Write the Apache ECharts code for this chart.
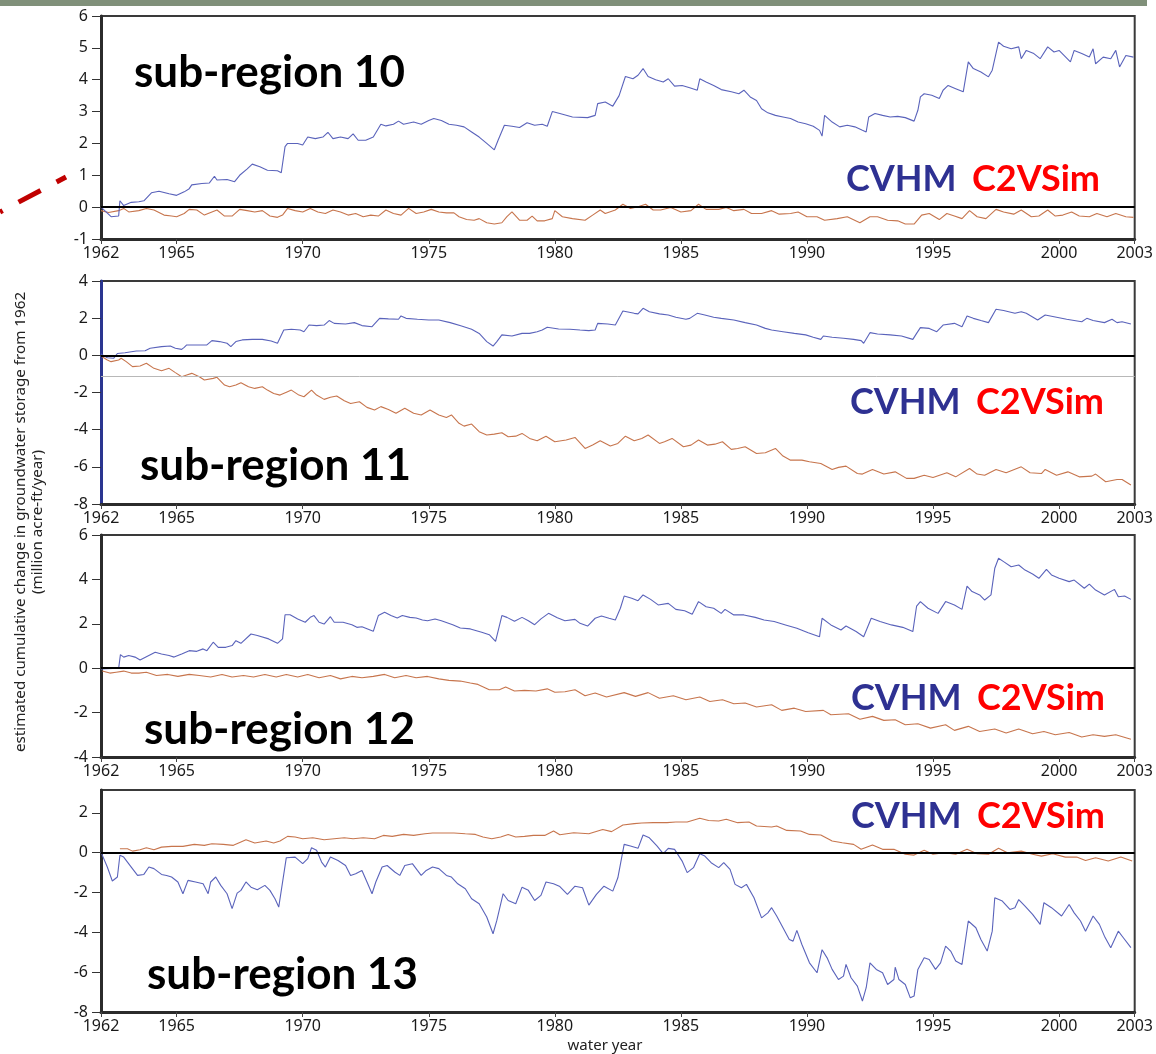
<!DOCTYPE html>
<html><head><meta charset="utf-8">
<script src="https://cdn.jsdelivr.net/npm/echarts@6/dist/echarts.min.js"></script>
<style>html,body{margin:0;padding:0;background:#fff}#c{width:1156px;height:1054px}</style>
</head><body><div id="c"></div>
<script>
// ---------- DATA (year, million acre-ft) ----------
const xTickYears = [1962,1965,1970,1975,1980,1985,1990,1995,2000,2003];
const panelTitles = ['sub-region 10','sub-region 11','sub-region 12','sub-region 13'];
const seriesNames = ['CVHM','C2VSim'];
const yTicks10 = [-1,0,1,2,3,4,5,6];
const yTicks11 = [-8,-6,-4,-2,0,2,4];
const yTicks12 = [-4,-2,0,2,4,6];
const yTicks13 = [-8,-6,-4,-2,0,2];

const sr10Cvhm = [[1962.0,0.0],[1962.4,-0.3],[1962.7,-0.28],[1962.75,0.2],[1962.9,0.05],[1963.2,0.15],[1963.5,0.17],[1963.7,0.2],[1964.0,0.45],[1964.3,0.5],[1964.7,0.42],[1965.0,0.37],[1965.3,0.48],[1965.5,0.58],[1965.6,0.7],[1966.0,0.74],[1966.3,0.76],[1966.5,0.97],[1966.6,0.85],[1967.0,0.87],[1967.3,0.8],[1967.5,1.0],[1967.8,1.2],[1968.0,1.35],[1968.3,1.27],[1968.6,1.16],[1969.0,1.14],[1969.15,1.08],[1969.3,1.9],[1969.4,2.0],[1969.8,2.0],[1970.0,1.95],[1970.2,2.2],[1970.5,2.15],[1970.8,2.2],[1971.0,2.35],[1971.2,2.15],[1971.5,2.2],[1971.8,2.15],[1972.0,2.3],[1972.2,2.1],[1972.5,2.1],[1972.8,2.2],[1973.1,2.6],[1973.3,2.55],[1973.6,2.6],[1973.8,2.7],[1974.0,2.6],[1974.4,2.67],[1974.7,2.6],[1975.0,2.72],[1975.2,2.78],[1975.5,2.72],[1975.8,2.6],[1976.1,2.57],[1976.4,2.52],[1976.7,2.36],[1977.0,2.2],[1977.3,2.0],[1977.6,1.8],[1977.75,2.1],[1978.0,2.57],[1978.3,2.54],[1978.6,2.5],[1978.9,2.65],[1979.2,2.57],[1979.5,2.6],[1979.7,2.54],[1979.9,3.0],[1980.2,2.94],[1980.7,2.83],[1981.3,2.81],[1981.6,2.88],[1981.7,3.25],[1982.0,3.3],[1982.3,3.17],[1982.55,3.5],[1982.8,4.1],[1983.1,4.03],[1983.3,4.14],[1983.5,4.35],[1983.7,4.1],[1984.0,4.0],[1984.3,3.93],[1984.5,4.03],[1984.75,3.8],[1985.05,3.82],[1985.35,3.75],[1985.65,3.67],[1985.75,4.03],[1986.0,3.93],[1986.3,3.82],[1986.6,3.69],[1987.0,3.62],[1987.3,3.56],[1987.5,3.67],[1987.75,3.46],[1988.0,3.35],[1988.2,3.09],[1988.45,2.96],[1988.75,2.88],[1989.05,2.83],[1989.35,2.78],[1989.65,2.67],[1989.95,2.62],[1990.25,2.54],[1990.5,2.41],[1990.6,2.23],[1990.7,2.88],[1991.0,2.67],[1991.3,2.52],[1991.6,2.57],[1991.9,2.52],[1992.2,2.41],[1992.35,2.36],[1992.45,2.83],[1992.7,2.94],[1993.0,2.88],[1993.3,2.83],[1993.6,2.85],[1993.9,2.81],[1994.25,2.7],[1994.4,3.04],[1994.5,3.46],[1994.65,3.56],[1994.95,3.51],[1995.25,3.41],[1995.4,3.67],[1995.6,3.82],[1995.9,3.72],[1996.2,3.62],[1996.4,4.56],[1996.6,4.35],[1996.9,4.24],[1997.2,4.09],[1997.35,4.3],[1997.6,5.18],[1997.8,5.05],[1998.1,4.97],[1998.4,5.03],[1998.5,4.66],[1998.7,4.92],[1999.0,4.82],[1999.25,4.66],[1999.55,5.03],[1999.8,4.87],[2000.0,4.92],[2000.45,4.56],[2000.6,4.92],[2000.9,4.82],[2001.2,4.71],[2001.35,4.97],[2001.45,4.5],[2001.75,4.71],[2002.05,4.66],[2002.25,4.92],[2002.4,4.4],[2002.65,4.76],[2002.95,4.71]];
const sr10C2vsim = [[1962.0,-0.11],[1962.3,-0.17],[1962.7,-0.11],[1962.9,-0.04],[1963.1,-0.15],[1963.5,-0.11],[1963.8,-0.04],[1964.1,-0.09],[1964.5,-0.25],[1964.8,-0.28],[1965.0,-0.3],[1965.3,-0.2],[1965.5,-0.07],[1965.8,-0.09],[1966.1,-0.25],[1966.4,-0.15],[1966.6,-0.09],[1966.9,-0.28],[1967.2,-0.28],[1967.5,-0.07],[1967.8,-0.11],[1968.1,-0.15],[1968.4,-0.11],[1968.7,-0.28],[1969.0,-0.32],[1969.2,-0.25],[1969.4,-0.04],[1969.7,-0.11],[1970.0,-0.15],[1970.3,-0.04],[1970.6,-0.15],[1970.9,-0.2],[1971.2,-0.09],[1971.5,-0.15],[1971.8,-0.25],[1972.1,-0.2],[1972.4,-0.3],[1972.7,-0.25],[1973.0,-0.28],[1973.3,-0.09],[1973.6,-0.2],[1973.9,-0.25],[1974.2,-0.04],[1974.5,-0.2],[1974.8,-0.15],[1975.1,-0.07],[1975.4,-0.15],[1975.7,-0.18],[1976.0,-0.18],[1976.2,-0.3],[1976.5,-0.39],[1976.8,-0.41],[1977.0,-0.36],[1977.3,-0.49],[1977.6,-0.53],[1977.9,-0.49],[1978.1,-0.3],[1978.3,-0.15],[1978.6,-0.41],[1978.9,-0.41],[1979.1,-0.28],[1979.3,-0.43],[1979.6,-0.43],[1979.9,-0.36],[1980.0,-0.11],[1980.3,-0.3],[1980.7,-0.36],[1981.2,-0.41],[1981.5,-0.25],[1981.8,-0.09],[1982.0,-0.2],[1982.4,-0.09],[1982.7,0.09],[1983.0,-0.04],[1983.3,0.01],[1983.6,0.09],[1983.9,-0.09],[1984.2,-0.09],[1984.6,-0.01],[1985.0,-0.15],[1985.4,-0.11],[1985.7,0.09],[1986.0,-0.07],[1986.5,-0.07],[1986.8,-0.01],[1987.1,-0.11],[1987.5,-0.07],[1987.8,-0.2],[1988.2,-0.2],[1988.6,-0.11],[1988.9,-0.22],[1989.35,-0.2],[1989.65,-0.15],[1990.0,-0.3],[1990.4,-0.3],[1990.7,-0.41],[1991.2,-0.36],[1991.6,-0.3],[1992.1,-0.49],[1992.5,-0.3],[1992.8,-0.3],[1993.2,-0.41],[1993.6,-0.43],[1993.9,-0.53],[1994.25,-0.53],[1994.55,-0.25],[1994.85,-0.2],[1995.25,-0.39],[1995.55,-0.2],[1995.85,-0.28],[1996.15,-0.36],[1996.45,-0.11],[1996.75,-0.3],[1997.1,-0.36],[1997.5,-0.07],[1997.8,-0.15],[1998.2,-0.22],[1998.5,-0.09],[1998.9,-0.3],[1999.2,-0.28],[1999.55,-0.09],[1999.85,-0.28],[2000.15,-0.25],[2000.5,-0.15],[2000.8,-0.28],[2001.2,-0.3],[2001.5,-0.2],[2001.9,-0.3],[2002.25,-0.2],[2002.65,-0.3],[2002.95,-0.32]];

const sr11Cvhm = [[1962.0,0.07],[1962.25,-0.13],[1962.5,-0.16],[1962.65,0.1],[1962.95,0.14],[1963.4,0.23],[1963.75,0.25],[1963.95,0.38],[1964.4,0.47],[1964.75,0.5],[1964.95,0.38],[1965.2,0.32],[1965.3,0.43],[1965.4,0.56],[1965.8,0.56],[1966.2,0.56],[1966.4,0.79],[1966.7,0.74],[1967.0,0.65],[1967.15,0.47],[1967.35,0.74],[1967.6,0.83],[1968.0,0.86],[1968.4,0.86],[1968.75,0.77],[1969.0,0.65],[1969.25,1.36],[1969.55,1.4],[1969.9,1.36],[1970.05,1.27],[1970.25,1.63],[1970.55,1.6],[1970.85,1.63],[1971.05,1.87],[1971.25,1.72],[1971.7,1.69],[1972.05,1.76],[1972.35,1.6],[1972.75,1.54],[1973.05,1.99],[1973.4,1.96],[1973.8,1.94],[1973.9,2.12],[1974.1,1.99],[1974.55,1.94],[1975.0,1.9],[1975.4,1.9],[1975.85,1.76],[1976.3,1.58],[1976.7,1.4],[1977.0,1.18],[1977.3,0.74],[1977.55,0.5],[1977.7,0.74],[1977.9,1.1],[1978.3,1.04],[1978.7,1.18],[1979.0,1.18],[1979.3,1.27],[1979.5,1.36],[1979.7,1.51],[1980.15,1.42],[1980.6,1.4],[1981.0,1.36],[1981.35,1.33],[1981.6,1.36],[1981.7,1.72],[1982.1,1.69],[1982.4,1.63],[1982.7,2.39],[1983.15,2.26],[1983.3,2.23],[1983.5,2.53],[1983.75,2.35],[1984.15,2.23],[1984.5,2.17],[1984.8,2.05],[1985.2,1.94],[1985.35,1.99],[1985.65,2.26],[1985.95,2.17],[1986.3,2.05],[1986.6,1.99],[1987.1,1.9],[1987.55,1.76],[1988.0,1.63],[1988.35,1.45],[1988.6,1.36],[1989.05,1.27],[1989.5,1.18],[1989.95,1.1],[1990.25,0.97],[1990.55,0.86],[1990.65,1.04],[1991.0,0.97],[1991.45,0.92],[1991.85,0.86],[1992.15,0.79],[1992.25,0.65],[1992.5,1.22],[1992.8,1.15],[1993.3,1.1],[1993.75,1.04],[1994.2,0.86],[1994.35,1.18],[1994.5,1.49],[1994.85,1.45],[1995.15,1.27],[1995.4,1.63],[1995.85,1.72],[1996.15,1.54],[1996.35,2.12],[1996.6,1.99],[1996.9,1.87],[1997.2,1.76],[1997.5,2.48],[1997.8,2.41],[1998.25,2.26],[1998.5,2.35],[1998.7,2.26],[1999.15,1.9],[1999.45,2.17],[1999.8,2.08],[2000.3,1.94],[2000.9,1.81],[2001.1,1.99],[2001.35,1.87],[2001.8,1.76],[2002.1,1.94],[2002.3,1.76],[2002.5,1.81],[2002.85,1.69]];
const sr11C2vsim = [[1962.0,-0.04],[1962.25,-0.25],[1962.4,-0.34],[1962.7,-0.25],[1962.8,-0.16],[1963.0,-0.34],[1963.25,-0.61],[1963.55,-0.57],[1963.8,-0.43],[1964.1,-0.7],[1964.4,-0.83],[1964.7,-0.7],[1964.95,-0.93],[1965.2,-1.15],[1965.4,-1.06],[1965.6,-0.97],[1965.9,-1.15],[1966.1,-1.33],[1966.45,-1.24],[1966.6,-1.18],[1966.9,-1.6],[1967.1,-1.69],[1967.35,-1.6],[1967.55,-1.47],[1967.85,-1.69],[1968.1,-1.78],[1968.4,-1.69],[1968.6,-1.87],[1968.85,-2.05],[1969.1,-2.14],[1969.4,-1.96],[1969.55,-1.87],[1969.85,-2.14],[1970.05,-2.23],[1970.35,-1.87],[1970.55,-2.14],[1970.85,-2.37],[1971.1,-2.26],[1971.35,-2.19],[1971.65,-2.44],[1971.9,-2.59],[1972.25,-2.5],[1972.55,-2.8],[1972.85,-2.94],[1973.1,-2.76],[1973.4,-2.91],[1973.7,-3.12],[1974.05,-2.85],[1974.4,-3.12],[1974.7,-3.21],[1975.05,-2.94],[1975.4,-3.21],[1975.7,-3.34],[1975.9,-3.21],[1976.2,-3.66],[1976.4,-3.81],[1976.7,-3.7],[1977.0,-4.11],[1977.3,-4.29],[1977.6,-4.24],[1977.9,-4.17],[1978.15,-4.38],[1978.45,-4.35],[1978.7,-4.2],[1979.0,-4.47],[1979.3,-4.6],[1979.65,-4.35],[1980.0,-4.65],[1980.45,-4.56],[1980.8,-4.42],[1981.2,-5.01],[1981.5,-4.83],[1981.8,-4.6],[1982.2,-4.88],[1982.5,-4.74],[1982.8,-4.35],[1983.15,-4.6],[1983.45,-4.47],[1983.7,-4.29],[1984.15,-4.74],[1984.35,-4.65],[1984.65,-4.47],[1985.1,-4.92],[1985.4,-4.83],[1985.7,-4.56],[1986.05,-4.83],[1986.35,-4.78],[1986.65,-4.65],[1987.0,-5.06],[1987.25,-5.01],[1987.55,-4.92],[1988.0,-5.28],[1988.35,-5.24],[1988.75,-5.01],[1989.05,-5.42],[1989.35,-5.64],[1989.8,-5.64],[1990.1,-5.73],[1990.55,-5.82],[1991.0,-6.14],[1991.25,-6.03],[1991.55,-5.96],[1992.0,-6.36],[1992.2,-6.39],[1992.6,-6.14],[1993.05,-6.39],[1993.5,-6.27],[1993.95,-6.62],[1994.25,-6.62],[1994.65,-6.45],[1995.0,-6.57],[1995.55,-6.32],[1995.9,-6.54],[1996.45,-6.09],[1996.75,-6.39],[1997.05,-6.45],[1997.5,-6.14],[1997.9,-6.32],[1998.5,-6.0],[1998.85,-6.32],[1999.3,-6.36],[1999.45,-6.14],[1999.9,-6.45],[2000.35,-6.27],[2000.8,-6.54],[2001.3,-6.5],[2001.45,-6.39],[2001.85,-6.8],[2002.3,-6.68],[2002.5,-6.68],[2002.85,-6.98]];

const sr12Cvhm = [[1962.0,-0.03],[1962.7,0.0],[1962.77,0.61],[1962.9,0.5],[1963.1,0.57],[1963.35,0.5],[1963.55,0.37],[1963.8,0.52],[1964.15,0.72],[1964.4,0.64],[1964.7,0.57],[1964.9,0.5],[1965.2,0.64],[1965.5,0.79],[1965.8,0.76],[1966.05,0.87],[1966.2,0.79],[1966.45,1.17],[1966.65,0.94],[1966.95,0.94],[1967.2,1.02],[1967.35,1.24],[1967.55,1.12],[1967.95,1.54],[1968.2,1.47],[1968.65,1.32],[1969.0,1.12],[1969.2,1.32],[1969.3,2.41],[1969.5,2.41],[1969.8,2.22],[1970.1,2.07],[1970.3,2.29],[1970.45,2.37],[1970.65,2.07],[1970.85,1.99],[1971.1,2.32],[1971.25,2.07],[1971.6,2.07],[1971.95,1.96],[1972.15,1.84],[1972.35,1.87],[1972.8,1.66],[1973.0,2.37],[1973.25,2.52],[1973.5,2.37],[1973.75,2.26],[1973.95,2.37],[1974.25,2.29],[1974.5,2.26],[1974.75,2.17],[1974.95,2.14],[1975.25,2.22],[1975.5,2.14],[1975.95,1.96],[1976.25,1.81],[1976.65,1.77],[1977.1,1.62],[1977.4,1.51],[1977.65,1.21],[1977.9,2.37],[1978.1,2.29],[1978.4,2.11],[1978.7,2.29],[1978.95,2.14],[1979.2,1.96],[1979.45,2.22],[1979.75,2.47],[1980.1,2.27],[1980.4,2.14],[1980.8,2.2],[1981.0,2.02],[1981.3,1.9],[1981.6,2.25],[1981.85,2.35],[1982.15,2.25],[1982.4,2.17],[1982.6,2.7],[1982.75,3.25],[1983.05,3.15],[1983.3,3.04],[1983.5,3.3],[1983.8,3.1],[1984.1,2.85],[1984.5,2.92],[1984.8,2.65],[1985.15,2.59],[1985.45,2.43],[1985.7,3.0],[1986.0,2.77],[1986.3,2.7],[1986.6,2.47],[1986.75,2.65],[1987.1,2.4],[1987.5,2.4],[1987.95,2.29],[1988.3,2.17],[1988.7,2.1],[1989.15,1.95],[1989.6,1.8],[1990.05,1.6],[1990.5,1.42],[1990.6,2.25],[1990.95,1.95],[1991.35,1.72],[1991.55,1.9],[1991.95,1.65],[1992.25,1.42],[1992.55,2.25],[1992.9,2.1],[1993.35,1.95],[1993.8,1.84],[1994.2,1.65],[1994.35,2.8],[1994.5,3.0],[1994.8,2.7],[1995.2,2.47],[1995.5,3.0],[1995.85,2.85],[1996.15,2.65],[1996.35,3.7],[1996.55,3.45],[1996.85,3.3],[1997.05,3.07],[1997.3,3.3],[1997.45,4.5],[1997.6,4.95],[1997.8,4.8],[1998.1,4.57],[1998.4,4.65],[1998.65,4.42],[1998.95,4.24],[1999.2,4.05],[1999.5,4.45],[1999.7,4.2],[2000.0,4.05],[2000.4,3.9],[2000.6,3.97],[2001.0,3.6],[2001.2,3.79],[2001.45,3.52],[2001.8,3.3],[2002.2,3.55],[2002.35,3.22],[2002.6,3.25],[2002.85,3.1]];
const sr12C2vsim = [[1962.05,-0.13],[1962.35,-0.22],[1962.6,-0.18],[1962.9,-0.13],[1963.2,-0.22],[1963.5,-0.22],[1963.8,-0.18],[1964.2,-0.33],[1964.65,-0.28],[1965.05,-0.37],[1965.5,-0.28],[1965.9,-0.33],[1966.35,-0.4],[1966.8,-0.28],[1967.2,-0.4],[1967.65,-0.33],[1968.05,-0.4],[1968.5,-0.28],[1968.95,-0.4],[1969.35,-0.28],[1969.8,-0.4],[1970.2,-0.28],[1970.65,-0.43],[1971.1,-0.33],[1971.5,-0.48],[1971.95,-0.37],[1972.35,-0.43],[1972.8,-0.37],[1973.25,-0.28],[1973.65,-0.43],[1974.1,-0.33],[1974.5,-0.43],[1974.95,-0.37],[1975.4,-0.48],[1975.8,-0.55],[1976.25,-0.58],[1976.65,-0.67],[1976.95,-0.73],[1977.4,-0.97],[1977.8,-0.97],[1978.05,-0.85],[1978.4,-1.03],[1978.8,-1.0],[1979.25,-1.03],[1979.7,-0.93],[1980.0,-1.08],[1980.4,-1.06],[1980.8,-0.97],[1981.2,-1.24],[1981.6,-1.12],[1982.05,-1.3],[1982.75,-1.1],[1983.2,-1.27],[1983.7,-1.1],[1984.15,-1.35],[1984.7,-1.24],[1985.2,-1.42],[1985.75,-1.3],[1986.15,-1.5],[1986.65,-1.42],[1987.1,-1.6],[1987.55,-1.57],[1988.0,-1.75],[1988.6,-1.65],[1989.0,-1.9],[1989.5,-1.8],[1989.95,-1.95],[1990.65,-1.9],[1990.95,-2.1],[1991.65,-2.05],[1992.1,-2.3],[1992.6,-2.17],[1993.05,-2.35],[1993.5,-2.32],[1993.9,-2.55],[1994.4,-2.5],[1994.9,-2.7],[1995.5,-2.55],[1995.85,-2.8],[1996.4,-2.62],[1996.85,-2.85],[1997.45,-2.74],[1997.9,-2.92],[1998.4,-2.74],[1998.95,-2.95],[1999.4,-2.85],[1999.85,-3.0],[2000.4,-2.9],[2000.9,-3.1],[2001.35,-3.0],[2001.8,-3.07],[2002.25,-3.0],[2002.85,-3.2]];

const sr13Cvhm = [[1962.0,0.03],[1962.25,-0.72],[1962.45,-1.42],[1962.65,-1.22],[1962.75,-0.13],[1962.9,-0.22],[1963.2,-0.72],[1963.45,-1.14],[1963.7,-1.09],[1963.9,-0.72],[1964.1,-0.8],[1964.4,-1.09],[1964.6,-1.14],[1964.8,-1.22],[1965.05,-1.47],[1965.25,-2.06],[1965.45,-1.39],[1965.75,-1.47],[1966.05,-1.56],[1966.25,-2.06],[1966.35,-1.47],[1966.55,-1.22],[1966.75,-1.64],[1967.0,-2.06],[1967.2,-2.81],[1967.4,-2.03],[1967.55,-1.89],[1967.75,-1.47],[1967.95,-1.73],[1968.2,-1.86],[1968.5,-1.64],[1968.7,-1.89],[1968.9,-2.31],[1969.05,-2.73],[1969.35,-0.25],[1969.7,-0.22],[1970.0,-0.55],[1970.2,-0.3],[1970.35,0.25],[1970.55,0.12],[1970.75,-0.47],[1970.9,-0.72],[1971.1,-0.22],[1971.4,-0.39],[1971.7,-0.64],[1971.9,-1.14],[1972.1,-1.06],[1972.35,-0.89],[1972.55,-1.47],[1972.75,-2.06],[1972.9,-1.47],[1973.15,-0.72],[1973.35,-0.64],[1973.65,-0.97],[1973.85,-1.14],[1974.05,-0.64],[1974.35,-0.55],[1974.55,-0.89],[1974.7,-1.14],[1974.9,-0.89],[1975.15,-0.72],[1975.4,-0.8],[1975.7,-1.14],[1975.9,-1.22],[1976.15,-1.56],[1976.45,-1.81],[1976.7,-2.31],[1977.0,-2.56],[1977.3,-3.23],[1977.55,-4.07],[1977.7,-3.4],[1977.95,-2.06],[1978.15,-2.4],[1978.45,-2.56],[1978.7,-1.73],[1978.95,-1.89],[1979.2,-2.4],[1979.45,-2.14],[1979.65,-1.47],[1979.95,-1.56],[1980.2,-1.7],[1980.5,-2.09],[1980.8,-1.68],[1981.1,-1.76],[1981.35,-2.63],[1981.65,-2.09],[1981.95,-1.68],[1982.3,-1.93],[1982.5,-1.26],[1982.75,0.42],[1983.0,0.34],[1983.3,0.22],[1983.5,0.89],[1983.75,0.75],[1984.05,0.34],[1984.3,-0.05],[1984.5,0.22],[1984.75,0.17],[1985.05,-0.42],[1985.25,-1.0],[1985.5,-0.75],[1985.75,-0.05],[1985.95,-0.17],[1986.2,-0.5],[1986.5,-0.75],[1986.7,-0.5],[1986.95,-0.84],[1987.15,-1.59],[1987.4,-1.76],[1987.6,-1.59],[1987.9,-2.26],[1988.2,-3.27],[1988.45,-3.02],[1988.6,-2.76],[1988.8,-3.18],[1989.05,-3.77],[1989.3,-4.36],[1989.45,-4.44],[1989.6,-3.9],[1989.8,-4.61],[1990.1,-5.53],[1990.4,-6.03],[1990.6,-4.87],[1990.8,-5.28],[1991.0,-5.86],[1991.25,-6.37],[1991.45,-6.2],[1991.55,-5.61],[1991.75,-6.28],[1992.0,-6.7],[1992.2,-7.45],[1992.35,-6.78],[1992.5,-5.53],[1992.75,-5.86],[1993.0,-6.03],[1993.2,-6.62],[1993.45,-6.37],[1993.5,-5.75],[1993.65,-6.37],[1993.9,-6.62],[1994.1,-7.29],[1994.25,-7.2],[1994.4,-5.86],[1994.65,-5.28],[1994.85,-5.36],[1995.1,-5.86],[1995.3,-5.53],[1995.5,-4.69],[1995.7,-4.94],[1995.9,-5.44],[1996.15,-5.61],[1996.4,-3.43],[1996.7,-3.77],[1996.9,-4.36],[1997.15,-4.94],[1997.35,-3.94],[1997.45,-2.26],[1997.75,-2.43],[1998.05,-2.85],[1998.25,-2.76],[1998.4,-2.35],[1998.65,-2.68],[1998.95,-3.1],[1999.25,-3.6],[1999.4,-2.51],[1999.7,-2.76],[2000.1,-3.18],[2000.4,-2.6],[2000.6,-3.02],[2000.85,-3.43],[2001.05,-3.94],[2001.35,-3.18],[2001.6,-3.6],[2001.8,-4.19],[2002.05,-4.77],[2002.35,-3.94],[2002.55,-4.27],[2002.85,-4.77]];
const sr13C2vsim = [[1962.75,0.2],[1963.05,0.2],[1963.25,0.08],[1963.55,0.15],[1963.8,0.25],[1964.1,0.15],[1964.4,0.28],[1964.8,0.32],[1965.25,0.32],[1965.7,0.42],[1966.1,0.37],[1966.4,0.45],[1966.85,0.42],[1967.25,0.37],[1967.55,0.54],[1967.75,0.65],[1968.1,0.49],[1968.55,0.59],[1968.85,0.49],[1969.1,0.59],[1969.4,0.82],[1969.7,0.79],[1970.0,0.7],[1970.4,0.75],[1970.85,0.65],[1971.25,0.7],[1971.65,0.75],[1972.0,0.7],[1972.4,0.75],[1972.85,0.7],[1973.2,0.87],[1973.55,0.82],[1974.0,0.92],[1974.4,0.87],[1974.85,0.95],[1975.15,0.99],[1975.55,0.99],[1976.0,0.99],[1976.45,0.95],[1976.85,0.92],[1977.15,0.79],[1977.5,0.7],[1977.85,0.79],[1978.15,0.92],[1978.45,0.79],[1978.8,0.82],[1979.15,0.87],[1979.6,0.87],[1979.95,1.09],[1980.2,0.9],[1980.75,1.0],[1981.35,0.95],[1981.9,1.17],[1982.25,1.06],[1982.7,1.39],[1983.15,1.46],[1983.45,1.49],[1983.9,1.51],[1984.45,1.51],[1984.8,1.54],[1985.25,1.54],[1985.75,1.73],[1986.1,1.62],[1986.5,1.59],[1986.8,1.68],[1987.25,1.51],[1987.7,1.54],[1988.0,1.34],[1988.6,1.29],[1988.8,1.34],[1989.2,1.12],[1989.75,1.09],[1990.1,0.92],[1990.55,0.89],[1991.0,0.59],[1991.4,0.5],[1991.85,0.42],[1992.15,0.17],[1992.6,0.39],[1993.0,0.17],[1993.45,0.17],[1993.9,-0.08],[1994.25,-0.12],[1994.65,0.12],[1995.0,-0.08],[1995.45,0.0],[1995.9,-0.08],[1996.35,0.17],[1996.75,-0.05],[1997.2,-0.08],[1997.6,0.22],[1997.95,0.0],[1998.5,0.08],[1998.95,-0.08],[1999.3,-0.17],[1999.75,-0.05],[2000.25,-0.22],[2000.7,-0.22],[2001.05,-0.39],[2001.45,-0.25],[2001.95,-0.42],[2002.45,-0.22],[2002.9,-0.42]];

const refLine11 = -1.1; // faint grey horizontal line in sub-region 11

// ---------- LAYOUT ----------
const BLUE = '#5a63bb', BROWN = '#c7754d';
const FONT = '"Noto Sans", "Open Sans", sans-serif';
const TITLE_FONT = 'Lato, "Open Sans", sans-serif';
const panels = [
  {title: panelTitles[0], cv: sr10Cvhm, c2: sr10C2vsim, ticks: yTicks10, min: -1, max: 6, top: 16, h: 223, tx: 134, ty: 74, lx: 846, ly: 182},
  {title: panelTitles[1], cv: sr11Cvhm, c2: sr11C2vsim, ticks: yTicks11, min: -8, max: 4, top: 281, h: 223, tx: 140, ty: 467, lx: 850, ly: 405, blueAxis: true, ref: refLine11},
  {title: panelTitles[2], cv: sr12Cvhm, c2: sr12C2vsim, ticks: yTicks12, min: -4, max: 6, top: 535, h: 222, tx: 144, ty: 731, lx: 851, ly: 701},
  {title: panelTitles[3], cv: sr13Cvhm, c2: sr13C2vsim, ticks: yTicks13, min: -8, max: 3.15, top: 790, h: 222, tx: 147, ty: 976, lx: 851, ly: 819}
];

const grid = [], xAxis = [], yAxis = [], series = [], graphic = [];
panels.forEach((p, i) => {
  grid.push({left: 101, right: 21, top: p.top, height: p.h, show: true, borderColor: '#3a3a3a', borderWidth: 2, backgroundColor: 'transparent'});
  xAxis.push({
    type: 'value', gridIndex: i, min: 1962, max: 2003,
    axisLine: {show: true, onZero: false, lineStyle: {color: '#2b2b2b', width: 3}},
    axisTick: {show: true, length: 5, customValues: xTickYears, lineStyle: {color: '#444', width: 1}},
    axisLabel: {customValues: xTickYears, color: '#1a1a1a', fontSize: 16, fontFamily: FONT, margin: 6, formatter: v => String(v)},
    splitLine: {show: false}
  });
  yAxis.push({
    type: 'value', gridIndex: i, min: p.min, max: p.max,
    axisLine: {show: true, onZero: false, lineStyle: {color: p.blueAxis ? '#2a3590' : '#2b2b2b', width: 3}},
    axisTick: {show: true, length: 9, customValues: p.ticks, lineStyle: {color: '#333', width: 1}},
    axisLabel: {customValues: p.ticks, color: '#1a1a1a', fontSize: 16, fontFamily: FONT, margin: 13},
    splitLine: {show: false}
  });
  const ml = [{yAxis: 0, lineStyle: {color: '#000', width: 2, type: 'solid'}}];
  if (p.ref !== undefined) ml.push({yAxis: p.ref, lineStyle: {color: '#b8b8b8', width: 1, type: 'solid'}});
  series.push({
    name: seriesNames[1], type: 'line', xAxisIndex: i, yAxisIndex: i, data: p.c2,
    showSymbol: false, symbol: 'none', lineStyle: {color: BROWN, width: 1.1}, z: 2
  });
  series.push({
    name: seriesNames[0], type: 'line', xAxisIndex: i, yAxisIndex: i, data: p.cv,
    showSymbol: false, symbol: 'none', lineStyle: {color: BLUE, width: 1.1}, z: 3,
    markLine: {silent: true, symbol: ['none', 'none'], label: {show: false}, data: ml, animation: false}
  });
  graphic.push({type: 'text', left: p.tx, top: p.ty - 23, z: 10,
    style: {text: p.title, fill: '#000', font: 'bold 44px ' + TITLE_FONT}});
  graphic.push({type: 'text', left: p.lx, top: p.ly - 21, z: 10,
    style: {text: seriesNames[0], fill: '#2e3192', font: 'bold 36px ' + TITLE_FONT}});
  graphic.push({type: 'text', left: p.lx + 126, top: p.ly - 21, z: 10,
    style: {text: seriesNames[1], fill: '#ff0000', font: 'bold 36px ' + TITLE_FONT}});
});

// decorations: top bar, red dashed pointer, axis titles
graphic.push({type: 'rect', left: 0, top: 0, z: 20, shape: {width: 1147, height: 6}, style: {fill: '#80907a'}});
graphic.push({type: 'line', z: 20, shape: {x1: 0, y1: 212, x2: 66, y2: 177},
  style: {stroke: '#c00000', lineWidth: 5, lineDash: [25, 18], lineDashOffset: 22}});
graphic.push({type: 'text', x: 21, y: 522, rotation: Math.PI / 2, z: 10,
  style: {text: 'estimated cumulative change in groundwater storage from 1962', fill: '#222', font: '15.2px ' + FONT, textAlign: 'center', textVerticalAlign: 'middle'}});
graphic.push({type: 'text', x: 38, y: 522, rotation: Math.PI / 2, z: 10,
  style: {text: '(million acre-ft/year)', fill: '#222', font: '15.2px ' + FONT, textAlign: 'center', textVerticalAlign: 'middle'}});
graphic.push({type: 'text', x: 605, y: 1046, z: 10,
  style: {text: 'water year', fill: '#222', font: '15px ' + FONT, textAlign: 'center', textVerticalAlign: 'middle'}});

const chart = echarts.init(document.getElementById('c'), null, {renderer: 'canvas'});
chart.setOption({animation: false, backgroundColor: '#fff', grid, xAxis, yAxis, series, graphic});
</script></body></html>
